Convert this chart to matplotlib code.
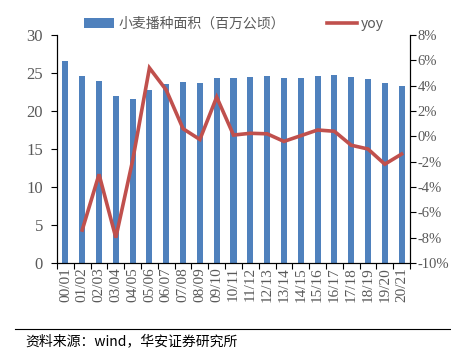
import matplotlib
matplotlib.use("Agg")
import matplotlib.pyplot as plt
from matplotlib.ticker import FuncFormatter, FixedLocator

categories = ["00/01", "01/02", "02/03", "03/04", "04/05", "05/06", "06/07", "07/08",
              "08/09", "09/10", "10/11", "11/12", "12/13", "13/14", "14/15", "15/16",
              "16/17", "17/18", "18/19", "19/20", "20/21"]
area = [26.6, 24.65, 23.9, 22.0, 21.6, 22.8, 23.55, 23.8, 23.7, 24.4, 24.4, 24.5,
        24.55, 24.4, 24.4, 24.55, 24.7, 24.5, 24.2, 23.7, 23.3]
yoy = [None, -7.4, -3.0, -8.0, -1.9, 5.4, 3.65, 0.6, -0.25, 3.1, 0.1, 0.24, 0.2,
       -0.4, 0.05, 0.5, 0.4, -0.7, -1.0, -2.2, -1.4]

bar_label = "小麦播种面积（百万公顷）"
line_label = "yoy"

plt.rcParams["font.family"] = "serif"
plt.rcParams["font.serif"] = ["Liberation Serif", "Times New Roman", "DejaVu Serif"]
gray = "#595959"
cjk = ["Noto Sans CJK SC", "DejaVu Sans"]

fig = plt.figure(figsize=(4.51, 3.52), dpi=100)
ax = fig.add_axes([57/451, 1-263/352, (410-57)/451, (263-35)/352])
ax2 = ax.twinx()

x = list(range(len(categories)))
bars = ax.bar(x, area, width=0.36, color="#4F81BD", zorder=2)
xs = [i for i, v in zip(x, yoy) if v is not None]
ys = [v for v in yoy if v is not None]
line, = ax2.plot(xs, ys, color="#C0504D", lw=2.6, zorder=3, solid_joinstyle="miter")

ax.set_xlim(-0.5, len(categories) - 0.5)
ax.set_ylim(0, 30)
ax.set_yticks([0, 5, 10, 15, 20, 25, 30])
ax2.set_ylim(-10, 8)
ax2.set_yticks(list(range(-10, 9, 2)))
ax2.yaxis.set_major_formatter(FuncFormatter(lambda v, p: f"{int(v)}%"))

ax.set_xticks(x)
ax.set_xticklabels(categories, rotation=90, fontsize=11, color=gray)
ax.tick_params(axis="x", which="major", length=0, pad=3)
ax.xaxis.set_minor_locator(FixedLocator([i - 0.5 for i in range(len(categories) + 1)]))
ax.tick_params(axis="x", which="minor", length=4, direction="out", color="black", width=0.8)

ax.tick_params(axis="y", labelsize=12, labelcolor=gray, length=4, width=0.8, pad=6)
ax2.tick_params(axis="y", labelsize=10.5, labelcolor=gray, length=4, width=0.8, pad=1.5)

for a in (ax, ax2):
    a.spines["top"].set_visible(False)
    for s in ("left", "right", "bottom"):
        a.spines[s].set_linewidth(0.8)
        a.spines[s].set_color("black")

leg = fig.legend([bars, line], [bar_label, line_label], loc="center",
                 bbox_to_anchor=(234/451, 1 - 24/352), ncol=2, frameon=False,
                 prop={"family": cjk, "size": 10}, handlelength=2.2, columnspacing=3.0,
                 handletextpad=0.3, borderaxespad=0, borderpad=0)
for t in leg.get_texts():
    t.set_color(gray)

fig.add_artist(plt.Line2D([15/451, 1], [1-329/352, 1-329/352], color="black", lw=0.8))
fig.text(25/451, 1-341/352, "资料来源：wind，华安证券研究所", fontfamily=cjk,
         fontsize=10, color="black", va="center", ha="left")

fig.savefig("out.png", dpi=100)
